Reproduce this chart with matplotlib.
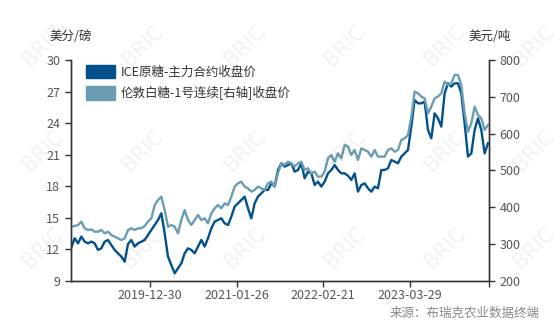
import numpy as np
import matplotlib
matplotlib.use('Agg')
import matplotlib.pyplot as plt
from matplotlib.patches import Patch

plt.rcParams['font.family'] = ['Noto Sans CJK SC', 'DejaVu Sans']

# ICE raw sugar, main contract close (c/lb), sampled roughly every 10 trading days
ice = [12.2, 13.06, 12.58, 13.22, 12.74, 12.58, 12.74, 12.58, 11.95, 12.11,
       12.74, 12.90, 12.42, 11.95, 11.63, 11.32, 10.84, 12.52, 12.90, 12.27,
       12.58, 12.74, 12.90, 13.37, 13.85, 14.32, 14.80, 15.43, 13.53, 11.32,
       10.52, 9.73, 10.21, 10.68, 11.63, 12.11, 11.95, 11.63, 12.27, 12.90,
       12.27, 13.06,
       14.01, 14.64, 14.80, 14.96, 14.48, 14.32, 15.12, 16.07, 16.38, 16.70,
       17.02, 15.91, 14.96, 16.38, 17.02, 17.33, 17.65, 17.65, 18.28, 17.97,
       19.55, 20.18, 19.87, 20.02, 20.18, 19.39, 19.55, 20.18, 18.76, 19.39,
       19.23, 18.12, 18.44, 17.97, 18.44, 19.23, 19.55, 20.02, 19.55, 19.23,
       19.23, 19.0,
       18.60, 19.23, 17.49, 18.12, 18.28, 17.81, 17.49, 17.97, 17.81, 19.55,
       19.55, 19.71, 20.50, 20.34, 20.18, 20.82, 21.13, 21.45, 23.67, 26.20,
       25.88, 25.88, 26.04, 23.35, 22.56, 24.93, 24.46, 23.67, 26.83, 27.78,
       27.47, 27.78, 27.78, 26.83, 23.98, 20.82, 21.13, 23.35, 24.46, 23.35,
       21.13, 22.08]

# London white sugar No.1 continuous close (USD/t), right axis
london = [347.5, 349.3, 352.0, 361.1, 343.0, 338.5, 340.3, 333.9, 333.9, 338.5,
          329.4, 333.9, 324.9, 320.4, 315.8, 311.3, 315.8, 338.5, 343.0, 338.5,
          343.0, 343.0, 349.3, 361.1, 370.1, 406.3, 419.9, 428.9, 392.8, 347.5,
          352.0, 347.5, 329.4, 365.6, 392.8, 365.6, 352.0, 365.6, 379.2, 365.6,
          370.1, 356.6,
          383.7, 397.3, 406.4, 397.3, 410.9, 406.4, 429.0, 456.2, 465.2, 469.7,
          456.2, 451.6, 442.6, 447.1, 456.2, 451.6, 447.1, 465.2, 469.7, 456.2,
          492.4, 519.5, 515.0, 524.0, 519.5, 510.5, 519.5, 524.0, 501.4, 505.9,
          492.4, 496.9, 483.3, 483.3, 496.9, 533.1, 542.0, 524.0, 546.6, 533.1,
          569.3, 564.7,
          542.1, 555.7, 528.5, 560.2, 555.7, 551.1, 537.6, 555.7, 537.6, 537.6,
          537.6, 555.7, 560.2, 551.1, 555.7, 582.8, 587.3, 596.4, 646.2, 714.0,
          709.5, 700.5, 695.9, 655.2, 673.3, 695.9, 700.5, 709.5, 741.2, 732.1,
          736.7, 759.3, 759.3, 732.1, 655.2, 605.0, 628.1, 673.3, 650.7, 641.6,
          610.0, 623.5]

tick_labels = ['2019-12-30', '2021-01-26', '2022-02-21', '2023-03-29', '']
tick_pos = [23.6, 49.8, 75.6, 101.6, 125.4]

c_ice = '#00518C'
c_ldn = '#6B9DB2'
txt = '#555555'
axc = '#333333'

x = np.arange(len(ice))

fig = plt.figure(figsize=(5.59, 3.26), dpi=100)
ax = fig.add_axes([0.1265, 0.138, 0.7488, 0.678])
ax2 = ax.twinx()

ax.plot(x, ice, color=c_ice, lw=1.7)
ax2.plot(x, london, color=c_ldn, lw=1.7)

ax.set_xlim(-0.19, 125.4)
ax.set_ylim(9, 30)
ax2.set_ylim(200, 800)
ax.set_yticks(np.arange(9, 31, 3))
ax2.set_yticks(np.arange(200, 801, 100))
ax.set_xticks(tick_pos)
ax.set_xticklabels(tick_labels)

for a in (ax, ax2):
    a.spines['top'].set_visible(False)
    for s in ('left', 'right', 'bottom'):
        a.spines[s].set_color(axc)
        a.spines[s].set_linewidth(1.0)
    a.tick_params(colors=axc, labelcolor=txt, labelsize=9, length=4, width=1)
ax.tick_params(axis='x', pad=2)

fig.text(0.089, 0.887, '美分/磅', fontsize=9, color='#333333', ha='left', va='center')
fig.text(0.838, 0.887, '美元/吨', fontsize=9, color='#333333', ha='left', va='center')
fig.text(0.965, 0.04, '来源：布瑞克农业数据终端', fontsize=9, color='#888888',
         ha='right', va='center')

handles = [Patch(color=c_ice, label='ICE原糖-主力合约收盘价'),
           Patch(color=c_ldn, label='伦敦白糖-1号连续[右轴]收盘价')]
leg = ax.legend(handles=handles, loc='upper left', bbox_to_anchor=(0.01, 1.03),
                frameon=False, fontsize=9, handlelength=2.3, handleheight=1.3,
                handletextpad=0.5, labelspacing=0.6, labelcolor='#333333')
leg.set_zorder(5)

# watermark
for wy in (0.86, 0.54, 0.24):
    for wx in (0.077, 0.256, 0.438, 0.617, 0.796, 0.955):
        fig.text(wx, wy, 'BRIC', fontsize=15, color='#000000', alpha=0.06,
                 rotation=45, ha='center', va='center', family='DejaVu Sans')

fig.savefig('out.png', dpi=100)
